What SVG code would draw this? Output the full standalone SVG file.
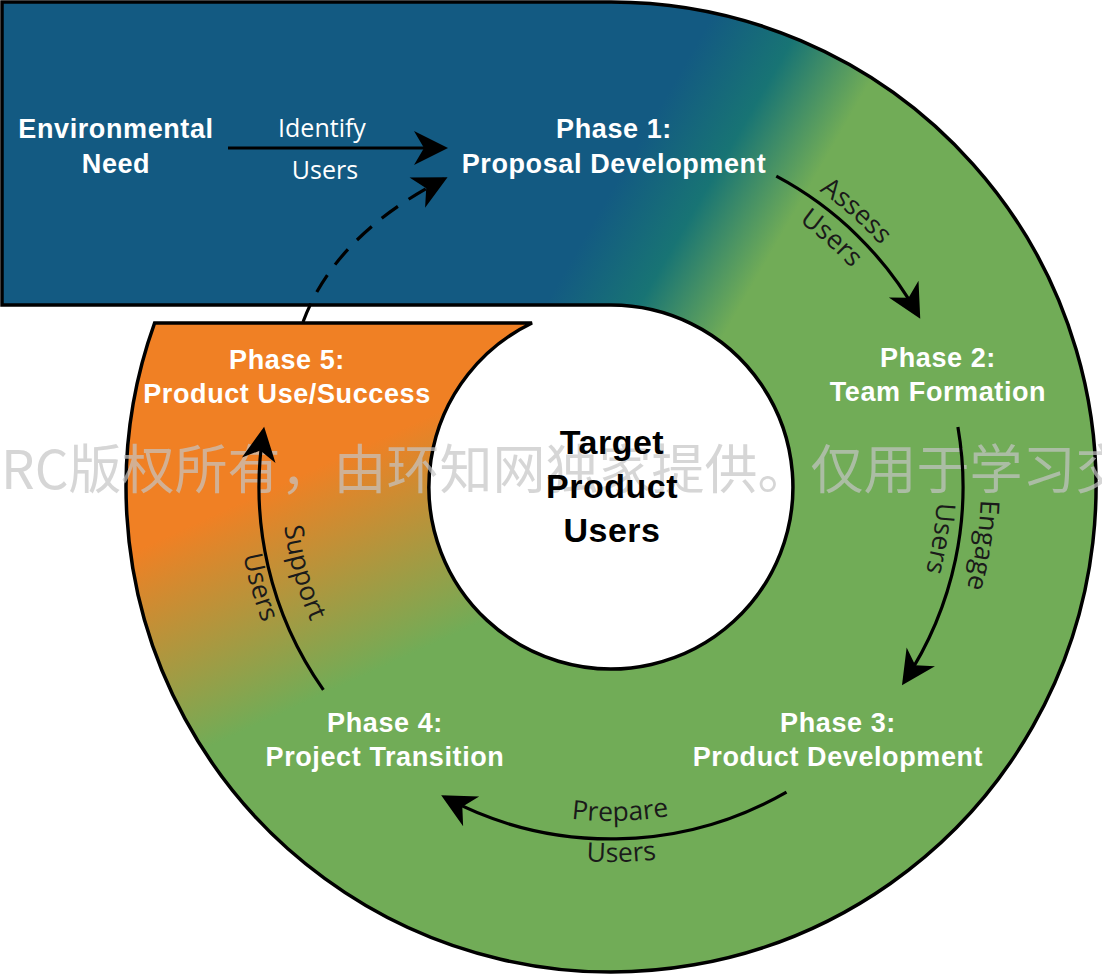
<svg xmlns="http://www.w3.org/2000/svg" xmlns:xlink="http://www.w3.org/1999/xlink" width="1102" height="977" viewBox="0 0 1102 977">
<style>
.node{font-family:"Liberation Sans",Arial,sans-serif;font-weight:bold;font-size:27px;fill:#ffffff;text-anchor:middle;letter-spacing:0.6px}
.center{font-family:"Liberation Sans",Arial,sans-serif;font-weight:bold;font-size:34px;fill:#000000;text-anchor:middle;letter-spacing:0.5px}
.lbl{font-family:"Open Sans","DejaVu Sans",sans-serif;font-size:26.5px;fill:#1a1a1a;text-anchor:middle}
.lblw{font-family:"Open Sans","DejaVu Sans",sans-serif;font-size:25px;fill:#ffffff;text-anchor:middle}
.conn{fill:none;stroke:#000;stroke-width:3.2}
.wm{font-family:"Noto Sans CJK SC",sans-serif;font-size:53px;fill:#c4c4c4;fill-opacity:0.7}
</style>
<defs>
<path id="spiral" d="M2,2 L611,2 A485 485 0 1 1 154.6,323 L532,323 A182 182 0 1 0 611,305 L2,305 Z"/>
<clipPath id="clip"><use xlink:href="#spiral"/></clipPath>
<linearGradient id="gBlue" gradientUnits="userSpaceOnUse" x1="541" y1="312" x2="688" y2="397">
<stop offset="0" stop-color="#135a82"/>
<stop offset="0.48" stop-color="#187474"/>
<stop offset="1" stop-color="#71ac57"/>
</linearGradient>
<linearGradient id="gOrange" gradientUnits="userSpaceOnUse" x1="235" y1="505" x2="322" y2="695">
<stop offset="0" stop-color="#f08024"/>
<stop offset="1" stop-color="#71ac57"/>
</linearGradient>
<marker id="arr" viewBox="-32 -18 38 36" refX="0" refY="0" markerWidth="38" markerHeight="36" markerUnits="userSpaceOnUse" orient="auto">
<path d="M4,0 L-30,-17 L-20,0 L-30,17 Z" fill="#000"/>
</marker>
<path id="tpAssess" d="M683.8,132.4 A362 362 0 0 1 954.5,372.7"/>
<path id="tpUsers1" d="M675.8,168.5 A325 325 0 0 1 919.2,383.9"/>
<path id="tpEngage" d="M956.2,353.8 A370 370 0 0 1 899,719.3"/>
<path id="tpUsers2" d="M915.1,369.6 A326 326 0 0 1 864.7,691.7"/>
<path id="tpPrepare" d="M427.1,765.8 A334 334 0 0 0 810.1,755.1"/>
<path id="tpUsers3" d="M404.6,800.1 A375 375 0 0 0 834.6,788.1"/>
<path id="tpSupport" d="M292.5,404.6 A329 329 0 0 0 380.4,721.7"/>
<path id="tpUsers4" d="M248.3,395.9 A374 374 0 0 0 350.7,755.6"/>
</defs>
<rect x="0" y="0" width="1102" height="977" fill="#ffffff"/>
<g id="background-spiral">
<use xlink:href="#spiral" fill="#71ac57"/>
<g clip-path="url(#clip)">
<polygon points="0,0 1102,0 1102,460 611,314 0,314" fill="url(#gBlue)"/>
<polygon points="0,318 611,318 611,977 0,977" fill="url(#gOrange)"/>
</g>
<use xlink:href="#spiral" fill="none" stroke="#000" stroke-width="3.5"/>
</g>
<text class="wm" x="1" y="489">RC版权所有，由环知网独家提供。仅用于学习交流</text>
<g id="connectors">
<path class="conn" d="M228,148 L444,148" marker-end="url(#arr)"/>
<path class="conn" d="M303,322 Q335,235 444,179" stroke-dasharray="20,13" marker-end="url(#arr)"/>
<path class="conn" d="M776.3,176.2 A352 352 0 0 1 918.3,315.3" marker-end="url(#arr)"/>
<path class="conn" d="M957.9,427.1 A352 352 0 0 1 904.2,681.8" marker-end="url(#arr)"/>
<path class="conn" d="M786.5,792.1 A352 352 0 0 1 444.7,797.2" marker-end="url(#arr)"/>
<path class="conn" d="M323.4,689.9 A352 352 0 0 1 263.5,430.7" marker-end="url(#arr)"/>
<text class="lblw" x="322" y="137">Identify</text>
<text class="lblw" x="325" y="179">Users</text>
<text class="lbl"><textPath xlink:href="#tpAssess" startOffset="50%">Assess</textPath></text>
<text class="lbl"><textPath xlink:href="#tpUsers1" startOffset="50%">Users</textPath></text>
<text class="lbl"><textPath xlink:href="#tpEngage" startOffset="50%">Engage</textPath></text>
<text class="lbl"><textPath xlink:href="#tpUsers2" startOffset="50%">Users</textPath></text>
<text class="lbl"><textPath xlink:href="#tpPrepare" startOffset="50%">Prepare</textPath></text>
<text class="lbl"><textPath xlink:href="#tpUsers3" startOffset="50%">Users</textPath></text>
<text class="lbl"><textPath xlink:href="#tpSupport" startOffset="50%">Support</textPath></text>
<text class="lbl"><textPath xlink:href="#tpUsers4" startOffset="50%">Users</textPath></text>
</g>
<g id="env-need">
<text class="node" x="116" y="138">Environmental</text>
<text class="node" x="116" y="173">Need</text>
</g>
<g id="phase1">
<text class="node" x="614" y="138">Phase 1:</text>
<text class="node" x="614" y="173">Proposal Development</text>
</g>
<g id="phase2">
<text class="node" x="938" y="367">Phase 2:</text>
<text class="node" x="938" y="401">Team Formation</text>
</g>
<g id="phase3">
<text class="node" x="838" y="732">Phase 3:</text>
<text class="node" x="838" y="766">Product Development</text>
</g>
<g id="phase4">
<text class="node" x="385" y="732">Phase 4:</text>
<text class="node" x="385" y="766">Project Transition</text>
</g>
<g id="phase5">
<text class="node" x="287" y="369">Phase 5:</text>
<text class="node" x="287" y="403">Product Use/Success</text>
</g>
<g id="target">
<text class="center" x="612" y="454">Target</text>
<text class="center" x="612" y="498">Product</text>
<text class="center" x="612" y="542">Users</text>
</g>
</svg>
